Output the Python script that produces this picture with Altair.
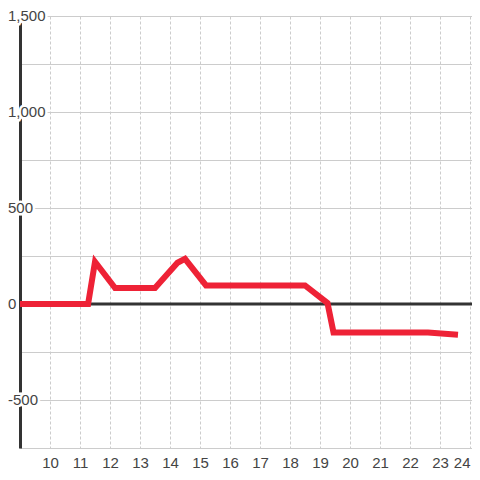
import altair as alt
import pandas as pd

hours = [9, 11.27, 11.5, 12.17, 13.5, 14.25, 14.5, 15.2, 18.5, 19.25, 19.45, 22.6, 23.6]
values = [0, 0, 220, 83, 83, 215, 235, 97, 97, 5, -148, -148, -160]
x_ticks = list(range(10, 25))
y_grid = [-750, -500, -250, 0, 250, 500, 750, 1000, 1250, 1500]
y_labels = [-500, 0, 500, 1000, 1500]

df = pd.DataFrame({"hour": hours, "value": values})
lab = pd.DataFrame({"v": y_labels})

FONT = "Liberation Sans"
W, H = 452, 432
xs = alt.Scale(domain=[9, 9 + W / 30], nice=False, zero=False)
ys = alt.Scale(domain=[-750, 1500], nice=False, zero=False)

base_x = alt.X(
    "hour:Q", scale=xs, title=None,
    axis=alt.Axis(values=x_ticks, grid=True, gridDash=[3, 2], gridColor="#cccccc",
                  domainColor="#cccccc", domainWidth=1, ticks=False, labelPadding=7,
                  labelFontSize=15, labelColor="#444444", labelFont=FONT, format="d",
                  labelAlign={"condition": {"test": "datum.value == 24", "value": "right"},
                              "value": "center"}),
)
base_y = alt.Y(
    "value:Q", scale=ys, title=None,
    axis=alt.Axis(values=y_grid, grid=True, gridColor="#cccccc", labels=False,
                  ticks=False, domainColor="#333333", domainWidth=3),
)

line = alt.Chart(df).mark_line(color="#ee2236", strokeWidth=6, strokeJoin="miter").encode(
    x=base_x, y=base_y
)

zero = alt.Chart(lab).mark_rule(color="#333333", strokeWidth=3).encode(
    y=alt.datum(0, scale=ys)
).transform_filter("datum.v == 0")

lab_base = alt.Chart(lab).transform_calculate(
    txt="replace(format(datum.v, ','), '\u2212', '-')"
)

halo = lab_base.mark_text(
    align="left", baseline="middle", fontSize=15, font=FONT,
    fill="white", stroke="white", strokeWidth=5,
).encode(
    x=alt.value(-12),
    y=alt.Y("v:Q", scale=ys),
    text="txt:N",
)
labels = lab_base.mark_text(
    align="left", baseline="middle", fontSize=15, font=FONT, color="#444444",
).encode(
    x=alt.value(-12),
    y=alt.Y("v:Q", scale=ys),
    text="txt:N",
)

chart = alt.layer(zero, halo, labels, line).properties(
    width=W, height=H,
    autosize=alt.AutoSizeParams(type="none"),
    padding={"left": 12, "top": 8, "right": 0, "bottom": 24},
    background="white",
).configure_view(stroke=None)

chart.save("out.html", embed_options={"renderer": "svg", "actions": False})
